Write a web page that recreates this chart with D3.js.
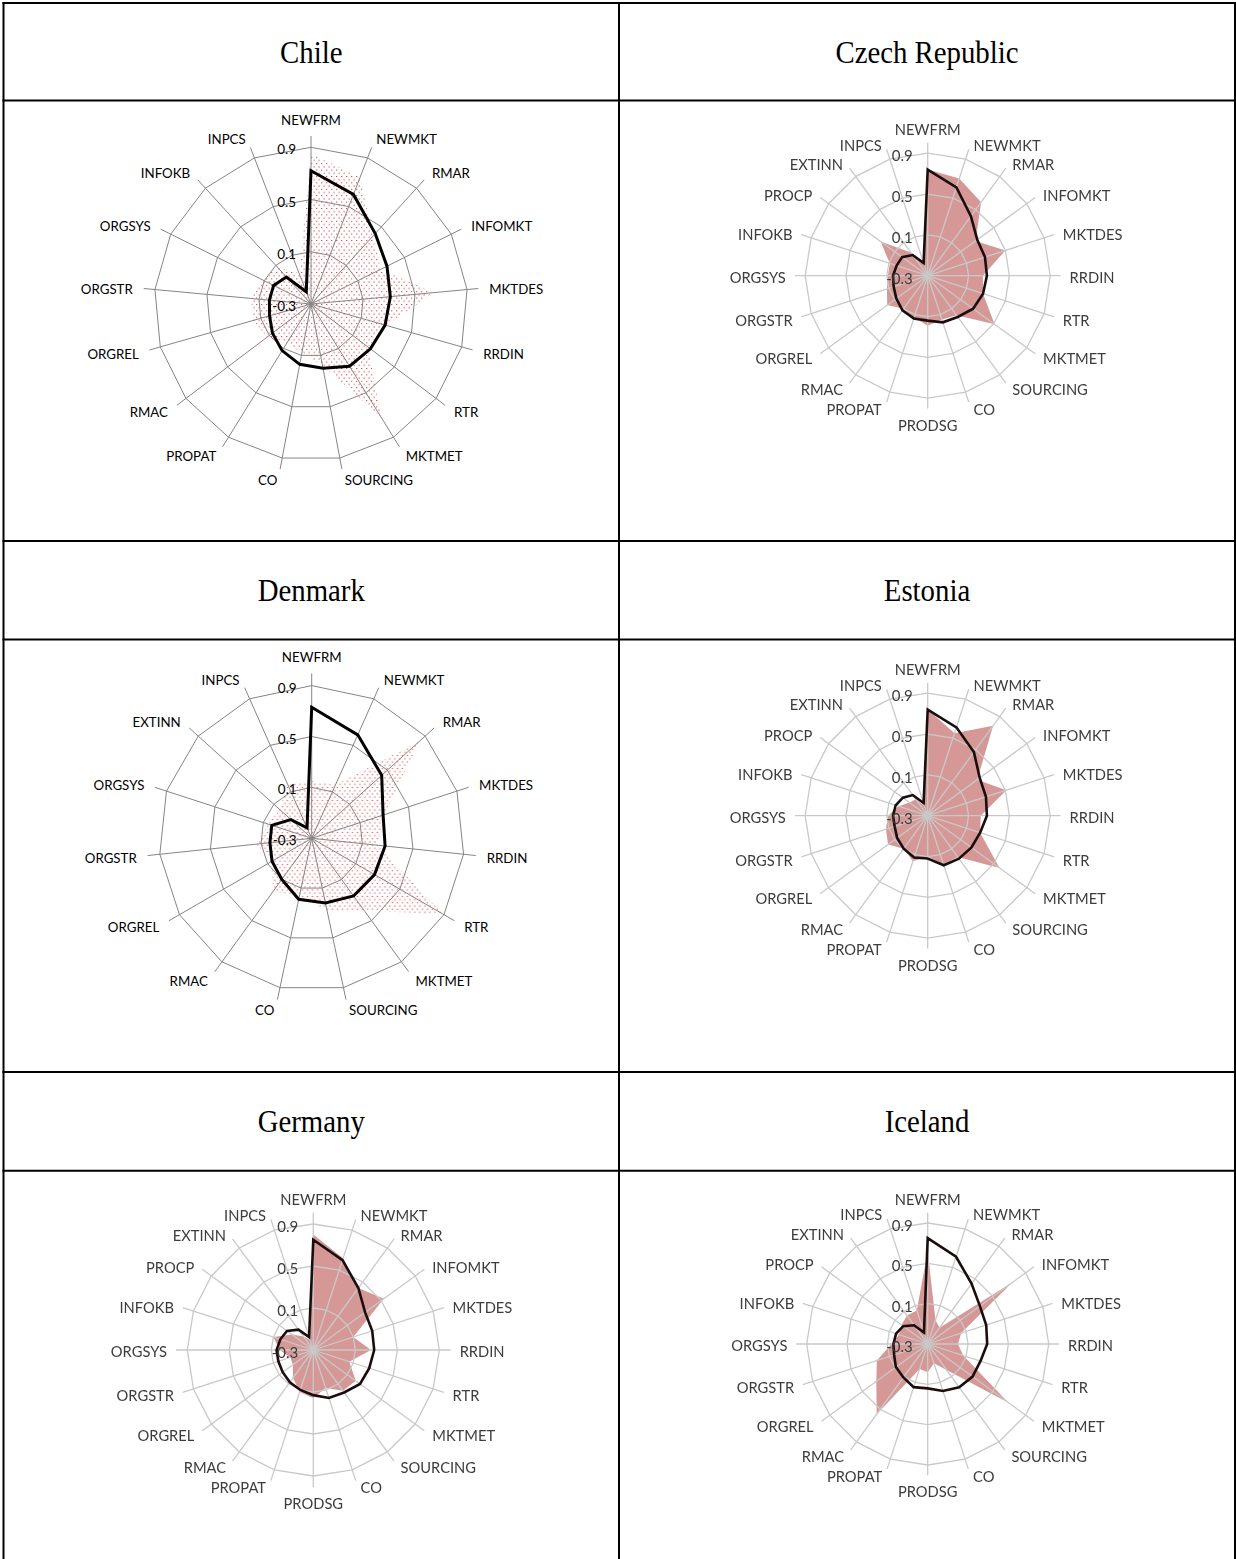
<!DOCTYPE html>
<html>
<head>
<meta charset="utf-8">
<script src="https://cdn.jsdelivr.net/npm/d3@7"></script>
<style>
  html, body { margin: 0; padding: 0; background: #fff; }
  svg { display: block; }
</style>
</head>
<body>
<svg id="page" width="1236" height="1559"></svg>
<script>
// ---- data ----------------------------------------------------------
const countries = ["Chile", "Czech Republic", "Denmark", "Estonia", "Germany", "Iceland"];

const tickValues = [-0.3, 0.1, 0.5, 0.9];
const tickLabels = ["-0.3", "0.1", "0.5", "0.9"];

const chileAxes = ["NEWFRM", "NEWMKT", "RMAR", "INFOMKT", "MKTDES", "RRDIN", "RTR", "MKTMET",
  "SOURCING", "CO", "PROPAT", "RMAC", "ORGREL", "ORGSTR", "ORGSYS", "INFOKB", "INPCS"];

const denmarkAxes = ["NEWFRM", "NEWMKT", "RMAR", "MKTDES", "RRDIN", "RTR", "MKTMET", "SOURCING",
  "CO", "RMAC", "ORGREL", "ORGSTR", "ORGSYS", "EXTINN", "INPCS"];

const fullAxes = ["NEWFRM", "NEWMKT", "RMAR", "INFOMKT", "MKTDES", "RRDIN", "RTR", "MKTMET",
  "SOURCING", "CO", "PRODSG", "PROPAT", "RMAC", "ORGREL", "ORGSTR", "ORGSYS", "INFOKB",
  "PROCP", "EXTINN", "INPCS"];

// black outline series
const chileLine   = [0.72, 0.60, 0.43, 0.35, 0.31, 0.29, 0.27, 0.26, 0.20, 0.17, 0.12, 0.07, 0.03, 0.02, 0.02, -0.02, -0.20];
const denmarkLine = [0.73, 0.59, 0.44, 0.29, 0.28, 0.27, 0.26, 0.22, 0.19, 0.10, 0.06, 0.03, 0.03, -0.08, -0.21];
const czechLine   = [0.74, 0.61, 0.42, 0.30, 0.29, 0.28, 0.27, 0.25, 0.20, 0.18, 0.14, 0.14, 0.12, 0.08, 0.05, 0.04, 0.02, 0.01, -0.05, -0.17];
const estoniaLine = [0.74, 0.61, 0.47, 0.33, 0.30, 0.28, 0.24, 0.23, 0.22, 0.21, 0.12, 0.13, 0.10, 0.07, 0.04, 0.04, 0.03, 0.00, -0.05, -0.17];
const germanyLine = [0.75, 0.60, 0.43, 0.31, 0.29, 0.28, 0.26, 0.25, 0.20, 0.18, 0.13, 0.10, 0.08, 0.06, 0.05, 0.05, 0.03, 0.01, -0.06, -0.17];
const icelandLine = [0.75, 0.61, 0.44, 0.34, 0.31, 0.29, 0.25, 0.25, 0.23, 0.19, 0.14, 0.15, 0.11, 0.09, 0.05, 0.04, 0.03, 0.00, -0.07, -0.18];

// filled area series
const chileArea   = [0.85, 0.74, 0.40, 0.30, 0.64, 0.30, 0.25, 0.72, 0.18, 0.08, 0.05, 0.12, 0.16, 0.16, 0.12, 0.08, -0.05];
const denmarkArea = [0.15, 0.16, 0.84, 0.30, 0.22, 0.90, 0.40, 0.28, 0.16, 0.22, 0.06, 0.14, 0.06, 0.04, 0.16];
const czechArea   = [0.74, 0.70, 0.59, 0.28, 0.50, 0.24, 0.27, 0.51, 0.18, 0.15, 0.19, 0.13, 0.10, 0.19, 0.12, 0.09, 0.09, 0.27, -0.02, -0.15];
const estoniaArea = [0.74, 0.55, 0.79, 0.30, 0.51, 0.22, 0.24, 0.57, 0.20, 0.20, 0.10, 0.17, 0.10, 0.18, 0.13, 0.09, 0.00, -0.08, -0.10, -0.20];
const germanyArea = [0.80, 0.62, 0.43, 0.53, 0.10, 0.25, 0.06, 0.20, 0.18, 0.08, 0.16, 0.12, 0.03, -0.06, -0.07, 0.02, 0.10, -0.05, -0.14, -0.20];
const icelandArea = [0.62, -0.05, -0.10, 0.74, 0.05, 0.00, 0.07, 0.69, 0.02, -0.10, -0.02, -0.04, 0.56, 0.33, 0.23, 0.06, 0.00, 0.02, 0.05, 0.05];

// ---- page setup ----------------------------------------------------
const svg = d3.select("#page");
const defs = svg.append("defs");

// sparse red dot pattern used for the first column's area fill
const dots = defs.append("pattern")
  .attr("id", "dots").attr("patternUnits", "userSpaceOnUse")
  .attr("width", 5).attr("height", 6.4);
dots.append("rect").attr("x", 0).attr("y", 0).attr("width", 1.3).attr("height", 1).attr("fill", "#e04548");
dots.append("rect").attr("x", 2.5).attr("y", 3.2).attr("width", 1.3).attr("height", 1).attr("fill", "#e04548");

defs.append("filter").attr("id", "soft")
  .attr("x", "-10%").attr("y", "-10%").attr("width", "120%").attr("height", "120%")
  .append("feGaussianBlur").attr("stdDeviation", 0.55);

// ---- table frame ---------------------------------------------------
const colX = [3.5, 619, 1235];
const rowY = [3, 100.5, 541, 639.5, 1072, 1170.7];
const frame = svg.append("g").attr("stroke", "#000").attr("stroke-width", 2);
rowY.forEach(y => frame.append("line").attr("x1", colX[0] - 1).attr("x2", colX[2] + 1).attr("y1", y).attr("y2", y));
colX.forEach(x => frame.append("line").attr("x1", x).attr("x2", x).attr("y1", rowY[0] - 1).attr("y2", 1560));

// titles
const titleRows = [[rowY[0], rowY[1]], [rowY[2], rowY[3]], [rowY[4], rowY[5]]];
countries.forEach((name, k) => {
  const row = titleRows[Math.floor(k / 2)];
  const cx = (colX[k % 2] + colX[k % 2 + 1]) / 2;
  const base = (row[0] + row[1]) / 2 + 10.8;
  svg.append("text")
    .attr("transform", `translate(${cx},${base}) scale(0.9,1)`)
    .attr("text-anchor", "middle")
    .attr("font-family", "'Liberation Serif', 'Times New Roman', serif")
    .attr("font-size", 32)
    .attr("fill", "#000")
    .text(name);
});

// ---- radar drawing ---------------------------------------------------
const sharpStyle = { grid: "#858585", gridW: 1, label: "#000", labelSize: 13.3, tickSize: 13.5,
  lineW: 3, line: "#000", fill: "url(#dots)", blur: false, vExtra: 7, side: 1 };
const softStyle = { grid: "#c9c9c9", gridW: 1.3, label: "#3c3c3c", labelSize: 14.7, tickSize: 15,
  lineW: 2.6, line: "#1a1010", fill: "#d69896", blur: true, vExtra: 9, side: 3 };

function drawRadar(o) {
  const g = svg.append("g").attr("transform", `translate(${o.cx},${o.cy})`);
  if (o.style.blur) g.attr("filter", "url(#soft)");
  const n = o.axes.length;
  const ang = d3.scaleLinear().domain([0, n]).range([0, 2 * Math.PI]);
  const r = d3.scaleLinear().domain([tickValues[0], tickValues[tickValues.length - 1]]).range([0, o.R]);
  const radial = d3.lineRadial()
    .angle((d, i) => ang(i))
    .radius(d => r(d))
    .curve(d3.curveLinearClosed);

  // area series
  g.append("path").attr("d", radial(o.area)).attr("fill", o.style.fill).attr("stroke", "none");

  // grid rings and spokes
  const grid = g.append("g").attr("fill", "none").attr("stroke", o.style.grid).attr("stroke-width", o.style.gridW);
  tickValues.slice(1).forEach(v => grid.append("path").attr("d", radial(o.axes.map(() => v))));
  const outer = o.R * o.ext;
  o.axes.forEach((name, i) => {
    const a = ang(i);
    grid.append("line").attr("x1", 0).attr("y1", 0)
      .attr("x2", outer * Math.sin(a)).attr("y2", -outer * Math.cos(a));
  });

  // outline series
  g.append("path").attr("d", radial(o.line))
    .attr("fill", "none").attr("stroke", o.style.line)
    .attr("stroke-width", o.style.lineW).attr("stroke-linejoin", "miter");

  // category labels
  const labels = g.append("g")
    .attr("font-family", "Lato, 'Open Sans', sans-serif")
    .attr("font-size", o.style.labelSize)
    .attr("fill", o.style.label);
  o.axes.forEach((name, i) => {
    const a = ang(i), s = Math.sin(a), c = Math.cos(a);
    const ex = outer * s, ey = -outer * c;
    const vertical = Math.abs(s) < 0.1;
    const anchor = vertical ? "middle" : (s > 0 ? "start" : "end");
    const x = ex + s * o.gap + (vertical ? 0 : (s > 0 ? o.style.side : -o.style.side));
    const y = ey - c * o.gap + (vertical ? -c * o.style.vExtra : 0) + 1;
    labels.append("text")
      .attr("x", x).attr("y", y)
      .attr("text-anchor", anchor)
      .attr("dominant-baseline", "central")
      .text(name);
  });

  // value tick labels along the first spoke
  const tl = g.append("g")
    .attr("font-family", "Lato, 'Open Sans', sans-serif")
    .attr("font-size", o.style.tickSize)
    .attr("fill", o.style.label)
    .attr("text-anchor", "end");
  tickValues.forEach((v, k) => {
    tl.append("text")
      .attr("x", -15).attr("y", -r(v) + 2)
      .attr("dominant-baseline", "central")
      .text(tickLabels[k]);
  });
}

const panels = [
  { cx: 311,   cy: 304,   R: 156.7, ext: 1.072, gap: 10, axes: chileAxes,   line: chileLine,   area: chileArea,   style: sharpStyle },
  { cx: 927.7, cy: 275.7, R: 122.5, ext: 1.085, gap: 6,  axes: fullAxes,    line: czechLine,   area: czechArea,   style: softStyle },
  { cx: 311.7, cy: 838.3, R: 152.7, ext: 1.08,  gap: 10, axes: denmarkAxes, line: denmarkLine, area: denmarkArea, style: sharpStyle },
  { cx: 927.7, cy: 815.7, R: 122.5, ext: 1.085, gap: 6,  axes: fullAxes,    line: estoniaLine, area: estoniaArea, style: softStyle },
  { cx: 313.3, cy: 1350,  R: 126,   ext: 1.09,  gap: 6,  axes: fullAxes,    line: germanyLine, area: germanyArea, style: softStyle },
  { cx: 927.7, cy: 1344,  R: 121,   ext: 1.085, gap: 6,  axes: fullAxes,    line: icelandLine, area: icelandArea, style: softStyle }
];
panels.forEach(drawRadar);
</script>
</body>
</html>
